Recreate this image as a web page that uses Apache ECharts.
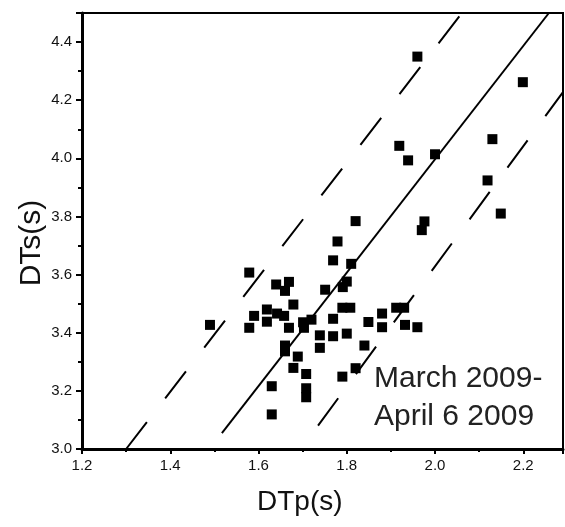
<!DOCTYPE html>
<html>
<head>
<meta charset="utf-8">
<script src="https://cdn.jsdelivr.net/npm/echarts@6/dist/echarts.min.js"></script>
<style>html,body{margin:0;padding:0;background:#fff}#c{width:565px;height:527px}</style>
</head>
<body>
<div id="c"></div>
<script>
var xTicks = [1.2, 1.4, 1.6, 1.8, 2.0, 2.2];
var yTicks = [3.0, 3.2, 3.4, 3.6, 3.8, 4.0, 4.2, 4.4];
var dtp = [1.490,1.579,1.579,1.590,1.619,1.619,1.640,1.669,1.660,1.642,1.658,1.679,1.669,1.701,1.703,1.720,1.660,1.660,1.689,1.679,1.708,1.708,1.708,1.630,1.630,1.739,1.739,1.769,1.800,1.769,1.790,1.808,1.751,1.791,1.800,1.769,1.810,1.779,1.820,1.840,1.820,1.790,1.849,1.880,1.880,1.912,1.930,1.932,1.960,1.976,1.970,1.960,2.199,2.130,1.919,1.939,2.000,2.119,2.149];
var dts = [3.427,3.607,3.417,3.458,3.480,3.438,3.566,3.575,3.544,3.466,3.458,3.497,3.417,3.436,3.417,3.445,3.356,3.336,3.318,3.279,3.258,3.209,3.178,3.216,3.119,3.391,3.348,3.388,3.397,3.448,3.486,3.486,3.548,3.557,3.576,3.649,3.637,3.714,3.784,3.356,3.278,3.249,3.437,3.466,3.419,3.486,3.486,3.427,3.419,3.783,3.753,4.350,4.262,4.066,4.043,3.993,4.014,3.924,3.810];
var fitLine = [[1.517, 3.055], [2.258, 4.5]];
var upperLine = [[1.300, 3.0], [2.061, 4.5]];
var lowerLine = [[1.696, 3.0], [2.29, 4.228]];
var dateText = 'March 2009-\nApril 6 2009';

var pts = dtp.map(function (v, i) { return [v, dts[i]]; });
var chart = echarts.init(document.getElementById('c'), null, {renderer: 'canvas'});
var lbl = {color: '#111', fontFamily: 'Liberation Sans, Arial, sans-serif', fontSize: 15};
chart.setOption({
  animation: false,
  backgroundColor: '#fff',
  grid: {left: 82, right: 2, top: 13, bottom: 78, show: true, borderColor: '#000', borderWidth: 2, backgroundColor: 'transparent'},
  xAxis: {
    type: 'value', min: 1.2, max: 2.29, interval: 0.2,
    axisLine: {show: true, onZero: false, lineStyle: {color: '#000', width: 3}},
    axisTick: {show: true, length: 5, lineStyle: {color: '#000', width: 2}},
    minorTick: {show: true, splitNumber: 2, length: 3, lineStyle: {color: '#000', width: 2}},
    splitLine: {show: false},
    axisLabel: Object.assign({margin: 9, showMaxLabel: false, formatter: function (v) {
      for (var i = 0; i < xTicks.length; i++) if (Math.abs(xTicks[i] - v) < 1e-6) return xTicks[i].toFixed(1);
      return '';
    }}, lbl)
  },
  yAxis: {
    type: 'value', min: 3.0, max: 4.5, interval: 0.2,
    axisLine: {show: true, onZero: false, lineStyle: {color: '#000', width: 3}},
    axisTick: {show: true, length: 6, lineStyle: {color: '#000', width: 2}},
    minorTick: {show: true, splitNumber: 2, length: 4, lineStyle: {color: '#000', width: 2}},
    splitLine: {show: false},
    axisLabel: Object.assign({margin: 10, showMaxLabel: false, formatter: function (v) {
      for (var i = 0; i < yTicks.length; i++) if (Math.abs(yTicks[i] - v) < 1e-6) return yTicks[i].toFixed(1);
      return '';
    }}, lbl)
  },
  graphic: [
    {type: 'text', left: 257, top: 488, style: {text: 'DTp(s)', fill: '#111', font: '28px "Liberation Sans", Arial, sans-serif'}},
    {type: 'text', x: 17, y: 243, rotation: Math.PI / 2, style: {text: 'DTs(s)', fill: '#111', font: '30px "Liberation Sans", Arial, sans-serif', align: 'center', verticalAlign: 'top'}},
    {type: 'text', left: 374, top: 360, style: {text: dateText, fill: '#222', font: '30px "Liberation Sans", Arial, sans-serif', lineHeight: 38}}
  ],
  series: [
    {type: 'line', data: fitLine, symbol: 'none', silent: true, lineStyle: {color: '#000', width: 2}, clip: true},
    {type: 'line', data: upperLine, symbol: 'none', silent: true, lineStyle: {color: '#000', width: 2, type: [34, 30]}, clip: true},
    {type: 'line', data: lowerLine, symbol: 'none', silent: true, lineStyle: {color: '#000', width: 2, type: [34, 30], dashOffset: 35}, clip: true},
    {type: 'scatter', data: pts, symbol: 'rect', symbolSize: 10, itemStyle: {color: '#000', opacity: 1}}
  ]
});
</script>
</body>
</html>
